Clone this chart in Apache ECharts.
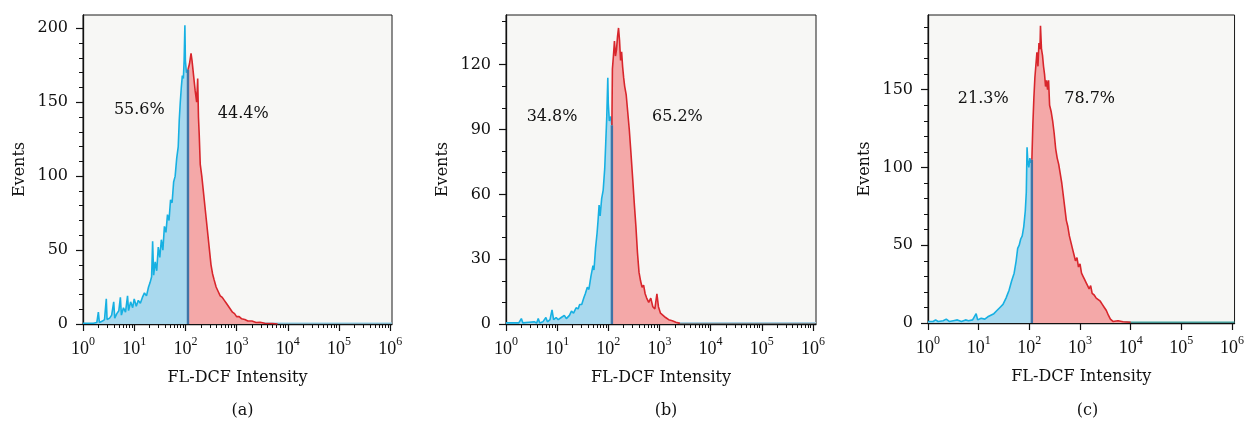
<!DOCTYPE html>
<html>
<head>
<meta charset="utf-8">
<script src="https://cdn.jsdelivr.net/npm/echarts@6/dist/echarts.min.js"></script>
<style>
html,body{margin:0;padding:0;background:#fff;}
#main{width:1247px;height:431px;}
</style>
</head>
<body>
<div id="main"></div>
<script>
// ---------- data (x = log10 of FL-DCF intensity, y = events) ----------
const xExponents = [0, 1, 2, 3, 4, 5, 6];
const yTicksA = [0, 50, 100, 150, 200];
const yTicksB = [0, 30, 60, 90, 120];
const yTicksC = [0, 50, 100, 150];
const panelLetters = ['(a)', '(b)', '(c)'];
const pctLabelsA = ['55.6%', '44.4%'];
const pctLabelsB = ['34.8%', '65.2%'];
const pctLabelsC = ['21.3%', '78.7%'];

// Panel (a)
const blueA = [[0,0.5],[0.2,0.5],[0.27,1],[0.30,8],[0.32,1],[0.38,2],[0.42,3],[0.455,17],[0.47,3],[0.52,4],[0.56,6],[0.60,15],[0.62,4],[0.66,7],[0.70,9],[0.73,18],[0.75,6],[0.79,11],[0.83,8],[0.87,19],[0.89,9],[0.93,15],[0.97,11],[1.00,17],[1.04,12],[1.08,16],[1.12,14],[1.16,18],[1.20,21],[1.24,19],[1.28,25],[1.31,28],[1.34,32],[1.36,56],[1.38,33],[1.41,42],[1.44,36],[1.47,52],[1.50,45],[1.53,57],[1.56,50],[1.59,66],[1.62,62],[1.65,74],[1.68,70],[1.71,84],[1.74,82],[1.77,96],[1.80,100],[1.83,112],[1.86,120],[1.88,138],[1.90,150],[1.92,160],[1.94,168],[1.96,166],[1.975,178],[1.99,202],[2.00,178],[2.02,170],[2.05,172]];
const redA = [[2.05,172],[2.08,176],[2.11,183],[2.13,178],[2.16,168],[2.19,158],[2.22,150],[2.24,166],[2.255,140],[2.27,128],[2.29,108],[2.32,100],[2.35,90],[2.38,80],[2.41,70],[2.44,60],[2.47,50],[2.50,40],[2.53,34],[2.56,30],[2.60,25],[2.64,22],[2.68,19],[2.72,18],[2.76,16],[2.80,14],[2.84,12],[2.88,10],[2.92,8],[2.96,7],[3.00,5],[3.05,5],[3.10,3.5],[3.16,3],[3.22,2],[3.30,2],[3.38,1],[3.46,1.2],[3.55,0.5],[3.7,0.3],[3.8,0]];
const gateA = [2.05, 172];
const pctPosA = [[1.10, 145], [3.13, 142]];

// Panel (b)
const blueB = [[0,0.5],[0.25,0.5],[0.30,2.5],[0.33,0.5],[0.45,0.8],[0.55,1],[0.60,0.5],[0.63,2.5],[0.66,0.5],[0.72,1],[0.78,3],[0.81,1],[0.86,2],[0.90,6.5],[0.93,2],[0.98,3],[1.02,2],[1.08,3],[1.14,4],[1.18,2.5],[1.24,4],[1.28,6],[1.32,5],[1.37,7.5],[1.41,7],[1.44,9],[1.48,9],[1.52,12],[1.55,14],[1.59,17],[1.62,16],[1.66,22],[1.70,27],[1.72,25],[1.75,35],[1.78,42],[1.80,48],[1.82,55],[1.84,50],[1.87,58],[1.90,62],[1.93,72],[1.95,84],[1.97,96],[1.99,114],[2.00,102],[2.02,94],[2.05,96],[2.07,92]];
const redB = [[2.07,92],[2.08,118],[2.10,124],[2.12,131],[2.14,124],[2.16,127],[2.18,133],[2.20,137],[2.22,131],[2.24,122],[2.26,126],[2.28,119],[2.30,114],[2.32,110],[2.35,106],[2.38,98],[2.41,90],[2.44,80],[2.48,66],[2.51,55],[2.54,45],[2.57,33],[2.60,24],[2.63,20],[2.66,17],[2.69,18],[2.72,14],[2.75,12],[2.79,10],[2.83,12],[2.87,8],[2.91,7],[2.95,14],[2.98,8],[3.02,5],[3.07,4],[3.12,3],[3.18,2],[3.25,1.5],[3.32,0.8],[3.4,0.3]];
const gateB = [2.07, 92];
const pctPosB = [[0.90, 96], [3.35, 96]];

// Panel (c)
const blueC = [[0,1],[0.1,1],[0.15,2],[0.2,1],[0.3,1.5],[0.36,2.5],[0.42,1],[0.5,1.5],[0.58,2],[0.66,1],[0.74,2],[0.8,1.5],[0.88,2],[0.95,6],[0.98,2],[1.05,3],[1.12,2.5],[1.18,4],[1.24,5],[1.30,6],[1.36,8],[1.42,10],[1.48,12],[1.54,16],[1.60,21],[1.65,27],[1.70,32],[1.74,40],[1.77,48],[1.80,50],[1.83,54],[1.86,56],[1.89,62],[1.92,72],[1.94,84],[1.955,113],[1.97,104],[1.99,100],[2.01,106],[2.03,103],[2.05,105]];
const redC = [[2.05,105],[2.07,128],[2.09,145],[2.11,158],[2.13,166],[2.15,174],[2.17,165],[2.19,180],[2.21,176],[2.22,191],[2.24,176],[2.26,172],[2.28,165],[2.30,160],[2.32,152],[2.34,156],[2.36,150],[2.38,156],[2.40,140],[2.43,136],[2.46,130],[2.49,122],[2.52,112],[2.55,106],[2.58,102],[2.61,96],[2.64,90],[2.67,82],[2.70,74],[2.73,66],[2.76,62],[2.79,56],[2.82,52],[2.85,48],[2.88,44],[2.91,40],[2.94,42],[2.97,36],[3.00,38],[3.03,32],[3.06,30],[3.09,28],[3.12,26],[3.15,24],[3.18,22],[3.21,24],[3.24,19],[3.28,18],[3.32,16],[3.36,15],[3.40,14],[3.44,12],[3.48,10],[3.52,8],[3.56,5],[3.60,2.5],[3.65,1],[3.75,1.5],[3.85,0.8],[4.0,0.5]];
const gateC = [2.05, 105];
const pctPosC = [[1.09, 144], [3.19, 144]];

// ---------- styling / layout ----------
const SERIF = '"DejaVu Serif", serif';
const TICKFONT = '"Liberation Serif", serif';
const BLUE_LINE = '#17b0e2', BLUE_FILL = '#a9d9ee';
const RED_LINE = '#d8262c', RED_FILL = '#f4a8a8';
const GATE = '#3f74a6';
const INK = '#111111';

const panels = [
  {grid:{left:83, top:15, width:309, height:309}, xMax:6.035, yMax:209, yTicks:yTicksA, yStep:10, xMinor:true,
   blue:blueA, red:redA, gate:gateA, pcts:pctLabelsA, pctPos:pctPosA, base:'#8fd0ea'},
  {grid:{left:506, top:15, width:310, height:309}, xMax:6.06, yMax:143, yTicks:yTicksB, yStep:10, xMinor:true,
   blue:blueB, red:redB, gate:gateB, pcts:pctLabelsB, pctPos:pctPosB, base:'#a8cde0'},
  {grid:{left:928, top:15, width:309, height:308}, xMax:6.05, yMax:198, yTicks:yTicksC, yStep:10, xMinor:false,
   blue:blueC, red:redC, gate:gateC, pcts:pctLabelsC, pctPos:pctPosC, base:'#3aa6a0'}
];

const xMinorTicks = [];
for (let d = 0; d < 6; d++) for (let k = 2; k <= 9; k++) xMinorTicks.push(d + Math.log10(k));

const option = {
  backgroundColor: '#ffffff',
  animation: false,
  grid: [], xAxis: [], yAxis: [], series: [], title: []
};

panels.forEach((p, i) => {
  option.grid.push(Object.assign({show:true, backgroundColor:'#f7f7f5', borderColor:'#1a1a1a', borderWidth:1}, p.grid));
  const yMinor = [];
  for (let v = p.yStep; v <= p.yMax; v += p.yStep) if (p.yTicks.indexOf(v) < 0) yMinor.push(v);

  option.xAxis.push({
    type:'value', gridIndex:i, min:0, max:p.xMax, position:'bottom',
    name:'FL-DCF Intensity', nameLocation:'middle', nameGap:46,
    nameTextStyle:{fontFamily:SERIF, fontSize:16, color:INK},
    axisLine:{show:true, lineStyle:{color:INK, width:1.3}},
    axisTick:{show:true, customValues:xExponents, length:7, inside:false, lineStyle:{color:INK, width:1.2}},
    axisLabel:{show:true, customValues:xExponents, margin:12, fontFamily:TICKFONT, fontSize:18, color:INK,
      formatter: v => '{b|10}{s|' + v + '}',
      rich:{
        b:{fontFamily:TICKFONT, fontSize:18, color:INK, lineHeight:22, verticalAlign:'bottom'},
        s:{fontFamily:TICKFONT, fontSize:12, color:INK, lineHeight:22, verticalAlign:'top'}
      }},
    splitLine:{show:false}
  });
  option.xAxis.push({
    type:'value', gridIndex:i, min:0, max:p.xMax, position:'bottom', offset:0,
    axisLine:{show:false},
    axisTick:{show:p.xMinor, customValues:xMinorTicks, length:4, lineStyle:{color:INK, width:1}},
    axisLabel:{show:false}, splitLine:{show:false}
  });
  option.yAxis.push({
    type:'value', gridIndex:i, min:0, max:p.yMax, position:'left',
    name:'Events', nameLocation:'middle', nameGap:55,
    nameTextStyle:{fontFamily:SERIF, fontSize:16, color:INK},
    axisLine:{show:true, lineStyle:{color:INK, width:1.3}},
    axisTick:{show:true, customValues:p.yTicks, length:7, lineStyle:{color:INK, width:1.2}},
    axisLabel:{show:true, customValues:p.yTicks, margin:15, fontFamily:SERIF, fontSize:16, color:INK},
    splitLine:{show:false}
  });
  option.yAxis.push({
    type:'value', gridIndex:i, min:0, max:p.yMax, position:'left', offset:0,
    axisLine:{show:false},
    axisTick:{show:true, customValues:yMinor, length:4, lineStyle:{color:INK, width:1}},
    axisLabel:{show:false}, splitLine:{show:false}
  });

  const xi = 2*i, yi = 2*i;
  option.series.push({
    type:'line', xAxisIndex:xi, yAxisIndex:yi, data:[[p.gate[0], 0.6], [p.xMax, 0.6]],
    symbol:'none', lineStyle:{color:p.base, width:1.3}, z:2, silent:true
  });
  option.series.push({
    type:'line', xAxisIndex:xi, yAxisIndex:yi, data:p.blue, symbol:'none',
    lineStyle:{color:BLUE_LINE, width:1.6}, areaStyle:{color:BLUE_FILL, opacity:1}, z:3, silent:true
  });
  option.series.push({
    type:'line', xAxisIndex:xi, yAxisIndex:yi, data:p.red, symbol:'none',
    lineStyle:{color:RED_LINE, width:1.6}, areaStyle:{color:RED_FILL, opacity:1}, z:3, silent:true
  });
  option.series.push({
    type:'line', xAxisIndex:xi, yAxisIndex:yi, data:[[p.gate[0], 0], [p.gate[0], p.gate[1]]], symbol:'none',
    lineStyle:{color:GATE, width:2.4}, z:4, silent:true
  });
  option.series.push({
    type:'scatter', xAxisIndex:xi, yAxisIndex:yi, symbolSize:1, z:5, silent:true,
    itemStyle:{opacity:0},
    data:p.pctPos.map((pos, j) => ({value:pos, name:p.pcts[j]})),
    label:{show:true, position:'inside', formatter:'{b}', fontFamily:SERIF, fontSize:16, color:INK, opacity:1,
      textBorderWidth:0}
  });
  option.title.push({
    text:panelLetters[i], left:p.grid.left + p.grid.width/2, top:398, textAlign:'center',
    textStyle:{fontFamily:SERIF, fontSize:16, fontWeight:'normal', color:INK}
  });
});

const chart = echarts.init(document.getElementById('main'), null, {renderer:'canvas'});
chart.setOption(option);
</script>
</body>
</html>
